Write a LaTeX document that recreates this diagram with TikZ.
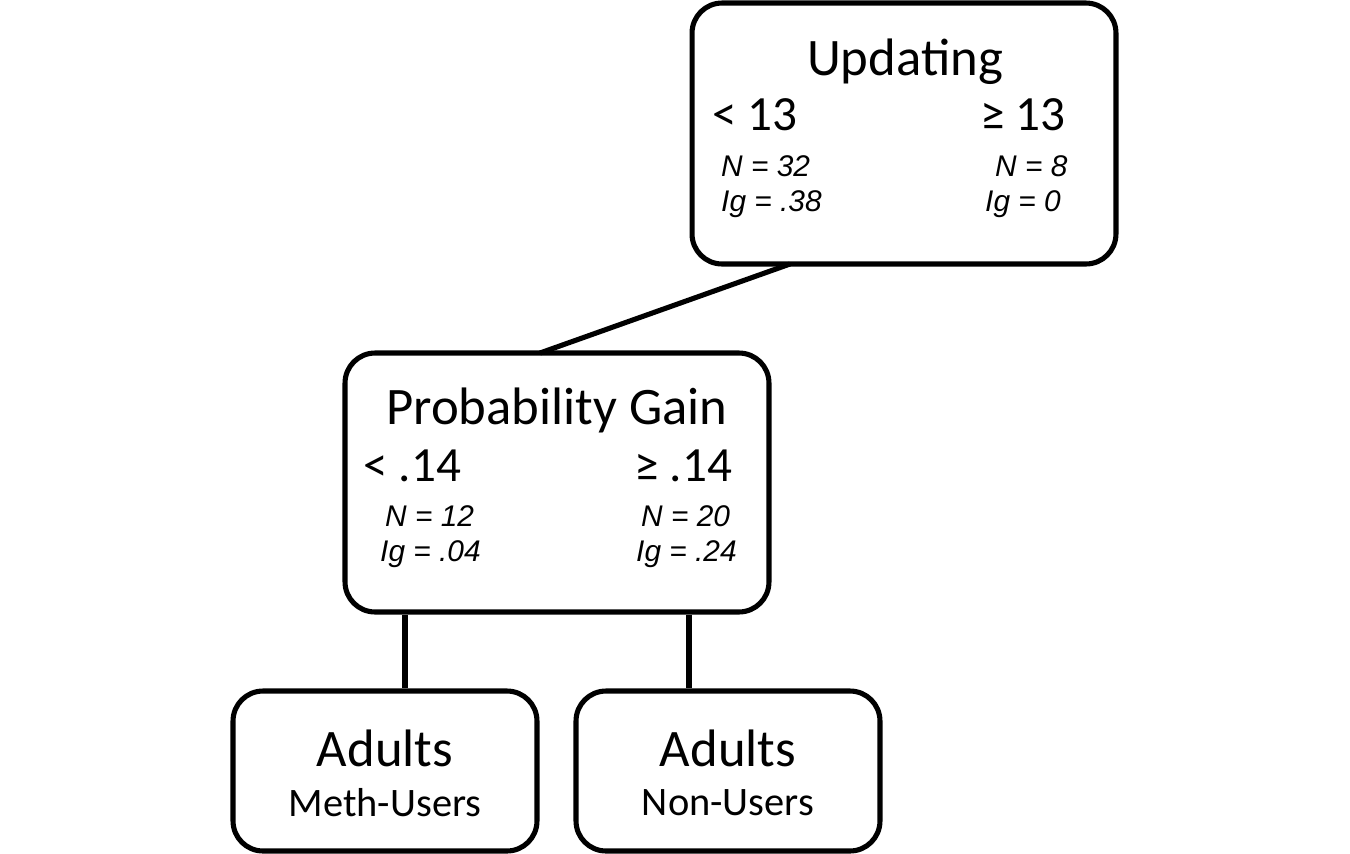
\documentclass[tikz,border=0pt]{standalone}
\usepackage{fontspec}
\setmainfont{Carlito}
\newfontfamily\arialfont{Liberation Sans}
\begin{document}
\begin{tikzpicture}[x=0.02cm,y=-0.02cm]
	\tikzset{box/.style={draw,line width=2.9pt,rounded corners=0.6cm,inner sep=0pt},
		title/.style={font=\fontsize{30}{30}\selectfont},
		cut/.style={font=\fontsize{28}{28}\selectfont},
		stat/.style={font=\arialfont\itshape\fontsize{17}{20}\selectfont,align=left,anchor=west},
		link/.style={line width=2.9pt}}
	\useasboundingbox (0,0) rectangle (1350,853);
	% boxes
	\node [box,minimum width=8.48cm,minimum height=5.22cm] (upd) at (904,133.5) {};
	\node [box,minimum width=8.48cm,minimum height=5.18cm] (pg) at (557,482.5) {};
	\node [box,minimum width=6.08cm,minimum height=3.2cm] (meth) at (385,771) {};
	\node [box,minimum width=6.08cm,minimum height=3.2cm] (non) at (728,771) {};
	% Updating
	\node [title] (updt) at (905,62) {Updating};
	\node [cut] (updl) at (755,115) {< 13};
	\node [cut] (updr) at (1023,115) {≥ 13};
	\node [stat] (upds1) at (715,187) {N = 32\\Ig = .38};
	\node [stat] (upds2) at (979,187) {\,\,N = 8\\Ig = 0};
	% Probability Gain
	\node [title] (pgt) at (557,410) {Probability Gain};
	\node [cut] (pgl) at (412,466) {< .14};
	\node [cut] (pgr) at (683,466) {≥ .14};
	\node [stat] (pgs1) at (374,537) {\,N = 12\\Ig = .04};
	\node [stat] (pgs2) at (630,537) {\,N = 20\\Ig = .24};
	% leaves
	\node [title] (metht) at (385,748) {Adults};
	\node [cut,font=\fontsize{23}{23}\selectfont] (meths) at (385,803) {Meth-Users};
	\node [title] (nont) at (728,748) {Adults};
	\node [cut,font=\fontsize{23}{23}\selectfont] (nons) at (728,803) {Non-Users};
	% links
	\coordinate (a) at (790,264);
	\coordinate (b) at (540,353);
	\draw [link] (a) -- (b);
	\draw [link] (pg.south -| 405,0) -- (meth.north -| 405,0);
	\draw [link] (pg.south -| 689,0) -- (non.north -| 689,0);
\end{tikzpicture}
\end{document}
